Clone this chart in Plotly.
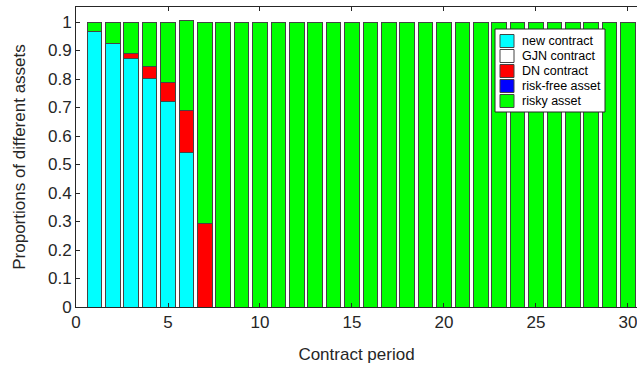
import plotly.graph_objects as go

periods = list(range(1, 31))

new_contract = [0.965, 0.925, 0.871, 0.803, 0.721, 0.543] + [0.0] * 24
gjn_contract = [0.0] * 30
dn_contract = [0.0, 0.0, 0.018, 0.040, 0.066, 0.145, 0.293] + [0.0] * 23
risk_free = [0.0] * 30
risky_asset = [0.035, 0.075, 0.111, 0.157, 0.213, 0.317, 0.707] + [1.0] * 23

series_names = ["new contract", "GJN contract", "DN contract", "risk-free asset", "risky asset"]
series_values = [new_contract, gjn_contract, dn_contract, risk_free, risky_asset]
series_colors = ["#00FFFF", "#FFFFFF", "#FF0000", "#0000FF", "#00FF00"]

W, H = 637, 366
ML, MT, MB = 76, 7, 59
PW, PH = W - ML, H - MT - MB

fig = go.Figure()
for name, vals, color in zip(series_names, series_values, series_colors):
    fig.add_trace(go.Bar(
        x=periods, y=vals, name=name, width=0.8, showlegend=False,
        marker=dict(color=color, line=dict(color="#444444", width=1)),
    ))


def px_x(p):
    return (p - ML) / PW


def px_y(p):
    return (MT + PH - p) / PH


# boxed key in the upper right of the plot area
shapes = [dict(type="rect", xref="paper", yref="paper", layer="above",
               x0=px_x(495), x1=px_x(605), y0=px_y(112), y1=px_y(29),
               fillcolor="white", line=dict(color="#262626", width=1))]
annotations = []
for i, (name, color) in enumerate(zip(series_names, series_colors)):
    cy = 41 + 15 * i
    shapes.append(dict(type="rect", xref="paper", yref="paper", layer="above",
                       x0=px_x(500), x1=px_x(514), y0=px_y(cy + 6.5), y1=px_y(cy - 6.5),
                       fillcolor=color, line=dict(color="#444444", width=1)))
    annotations.append(dict(xref="paper", yref="paper", x=px_x(520), y=px_y(cy),
                            xanchor="left", yanchor="middle", showarrow=False,
                            text=name, font=dict(size=12.5, color="#000000")))

font = "Liberation Sans, Arial, sans-serif"
fig.update_layout(
    barmode="stack",
    width=W, height=H,
    margin=dict(l=ML, r=0, t=MT, b=MB),
    plot_bgcolor="white", paper_bgcolor="white",
    font=dict(family=font, size=17, color="#262626"),
    xaxis=dict(
        range=[0, 30.49], tickvals=[0, 5, 10, 15, 20, 25, 30],
        ticks="inside", ticklen=4, tickcolor="#262626",
        ticklabeloverflow="allow",
        showline=True, linecolor="#262626", linewidth=1, mirror="ticks",
        showgrid=False, zeroline=False,
        title=dict(text="Contract period", font=dict(size=17), standoff=16),
    ),
    yaxis=dict(
        range=[0, 1.0527],
        tickvals=[0, 0.1, 0.2, 0.3, 0.4, 0.5, 0.6, 0.7, 0.8, 0.9, 1],
        ticktext=["0", "0.1", "0.2", "0.3", "0.4", "0.5", "0.6", "0.7", "0.8", "0.9", "1"],
        ticks="inside", ticklen=4, tickcolor="#262626",
        showline=True, linecolor="#262626", linewidth=1,
        showgrid=False, zeroline=False,
        title=dict(text="Proportions of different assets", font=dict(size=17), standoff=18),
    ),
    shapes=shapes,
    annotations=annotations,
    showlegend=False,
)

fig.write_html("out.html")
